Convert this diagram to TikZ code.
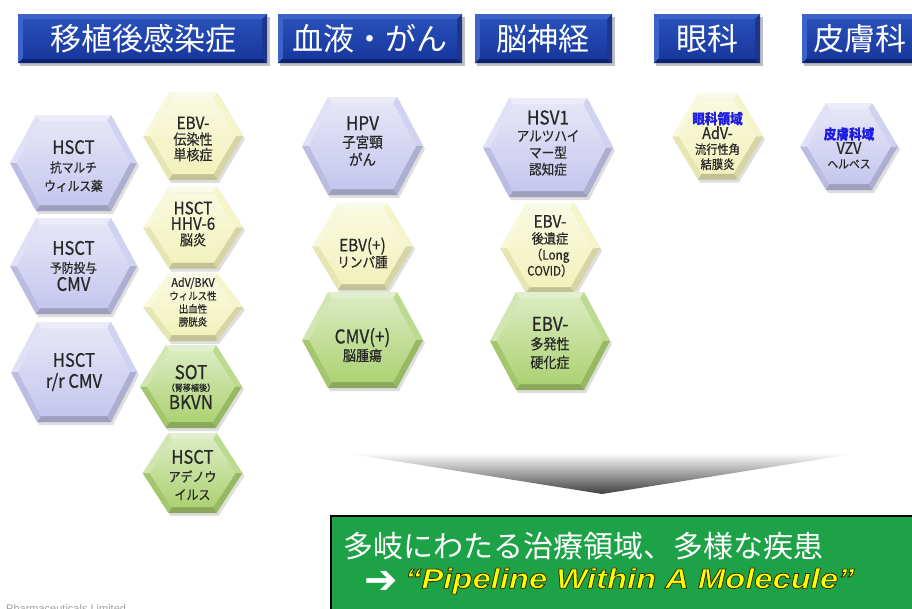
\documentclass[tikz,border=0pt]{standalone}
\usepackage{fontspec}
\setmainfont{Liberation Sans}
\newfontfamily\jpfont{Noto Sans CJK JP}
\newfontfamily\hexfont[FakeStretch=0.9, FakeBold=0.6]{Noto Sans CJK JP}
\newfontfamily\pipefont[FakeStretch=1.17, FakeBold=3]{Liberation Sans}
\newfontfamily\arrowfont{DejaVu Sans}
\usetikzlibrary{calc}

\definecolor{hexP}{RGB}{198,198,238}
\definecolor{hexY}{RGB}{242,242,188}
\definecolor{hexG}{RGB}{172,210,114}
\definecolor{hdrEdge}{RGB}{60,100,200}
\definecolor{hdrDark}{RGB}{14,34,115}
\definecolor{hdrTop}{RGB}{40,80,185}
\definecolor{hdrBot}{RGB}{24,56,158}
\definecolor{boxGreen}{RGB}{30,162,72}
\definecolor{pipeYellow}{RGB}{255,255,0}
\definecolor{lblBlue}{RGB}{30,30,225}
\definecolor{txtDark}{RGB}{40,40,40}

\newcommand\lat[2][18.5]{{\fontsize{#1}{#1}\selectfont #2}}
\newcommand\blu[1]{{\fontsize{14}{14}\selectfont\bfseries\color{lblBlue}#1}}
\newcommand\outl[1]{\special{pdf:literal direct 0.22 0.18 0 RG}#1}

\tikzset{
  hextext/.style={align=center, inner sep=0pt, text=txtDark},
  fs/.style 2 args={font={\hexfont\fontsize{#1}{#2}\selectfont\lineskiplimit=-30pt}},
  hdrtext/.style={text=white, inner sep=0pt, font={\jpfont\fontsize{31}{31}\selectfont}},
}

% name, cx, cy, W, H, colour, text cy, node options, text
\newcommand\hexa[9]{%
\begin{scope}[shift={(#2,#3)}]
  \pgfmathsetmacro\hw{#4/2}%
  \pgfmathsetmacro\hh{#5/2}%
  \pgfmathsetmacro\hs{\hw-26}%
  \pgfmathsetmacro\iw{\hw-7}%
  \pgfmathsetmacro\ih{\hh-6}%
  \pgfmathsetmacro\is{\iw-26*\ih/\hh}%
  \pgfmathsetmacro\ty{#7-#3}%
  \begin{scope}[shift={(2,3)}]
    \fill[black,opacity=.13] (-\hw,0)--(-\hs,-\hh)--(\hs,-\hh)--(\hw,0)--(\hs,\hh)--(-\hs,\hh)--cycle;
  \end{scope}
  \fill[#6!35!white] (-\hs,-\hh)--(\hs,-\hh)--(\is,-\ih)--(-\is,-\ih)--cycle;
  \fill[#6!55!white] (-\hw,0)--(-\hs,-\hh)--(-\is,-\ih)--(-\iw,0)--cycle;
  \fill[#6!80!white] (\hs,-\hh)--(\hw,0)--(\iw,0)--(\is,-\ih)--cycle;
  \fill[#6!88!black] (\hw,0)--(\hs,\hh)--(\is,\ih)--(\iw,0)--cycle;
  \fill[#6!80!black] (\hs,\hh)--(-\hs,\hh)--(-\is,\ih)--(\is,\ih)--cycle;
  \fill[#6!95!black] (-\hs,\hh)--(-\hw,0)--(-\iw,0)--(-\is,\ih)--cycle;
  \shade[top color=#6!45!white, bottom color=#6] (-\iw,0)--(-\is,-\ih)--(\is,-\ih)--(\iw,0)--(\is,\ih)--(-\is,\ih)--cycle;
  \node[hextext,#8] (#1) at (0,\ty) {#9};
\end{scope}}

% name, x1, x2, text centre x, text
\newcommand\hdr[5]{%
  \fill[black,opacity=.25] (#2+2,17) rectangle (#3+3,66);
  \fill[hdrEdge] (#2,14) rectangle (#3,63);
  \fill[hdrDark] (#2,63)--(#2+5,58)--(#3-5,58)--(#3,63)--cycle;
  \fill[hdrDark!70!hdrEdge] (#3,14)--(#3-5,19)--(#3-5,58)--(#3,63)--cycle;
  \shade[top color=hdrTop, bottom color=hdrBot] (#2+5,19) rectangle (#3-5,58);
  \node[hdrtext] (#1) at (#4,39) {#5};
}

\begin{document}
\begin{tikzpicture}[x=1pt,y=-1pt]
\useasboundingbox (0,0) rectangle (912,608);
\clip (0,0) rectangle (912,608);
\fill[white] (0,0) rectangle (912,608);

% headers
\hdr{hd1}{18}{267}{143}{移植後感染症}
\hdr{hd2}{278}{462}{370}{血液・がん}
\hdr{hd3}{475}{612}{543}{脳神経}
\hdr{hd4}{654}{760}{707}{眼科}
\hdr{hd5}{802}{918}{860}{皮膚科}

% column 1
\hexa{hA}{73.5}{163}{127}{96}{hexP}{166}{fs={13}{18.5}}{\lat{HSCT}\\抗マルチ\\ウィルス薬}
\hexa{hB}{73.5}{266}{127}{96}{hexP}{266}{fs={13}{18}}{\lat{HSCT}\\予防投与\\\lat{CMV}}
\hexa{hC}{74}{372}{126}{100}{hexP}{372}{fs={13}{21}}{\lat{HSCT}\\\lat{r/r CMV}}

% column 2
\hexa{hD}{193}{136}{100}{88}{hexY}{139}{fs={14.5}{15.5}}{\lat[17]{EBV-}\\伝染性\\単核症}
\hexa{hE}{193}{227.5}{100}{82}{hexY}{224}{fs={14.5}{15.5}}{\lat[17]{HSCT}\\\lat[17]{HHV-6}\\脳炎}
\hexa{hF}{193}{307}{100}{68}{hexY}{302}{fs={10.5}{13}}{\lat[12]{AdV/BKV}\\ウィルス性\\出血性\\膀胱炎}
\hexa{hG}{191}{386.5}{102}{83}{hexG}{387}{fs={9}{12}}{\lat[19]{SOT}\\（腎移植後）\\[6pt]\lat[19]{BKVN}}
\hexa{hH}{192.5}{473}{100}{80}{hexG}{475}{fs={13.3}{18}}{\lat{HSCT}\\アデノウ\\イルス}

% column 3
\hexa{hI}{362.5}{146}{121}{98}{hexP}{141}{fs={15}{17.5}}{\lat[19]{HPV}\\子宮頸\\がん}
\hexa{hJ}{362.5}{246.5}{101}{87}{hexY}{253}{fs={14}{16}}{\lat[17]{EBV(+)}\\リンパ腫}
\hexa{hK}{362.5}{340}{121}{96}{hexG}{345}{fs={14.5}{17.5}}{\lat[19]{CMV(+)}\\脳腫瘍}

% column 4
\hexa{hL}{548}{147.5}{130}{99}{hexP}{143}{fs={14}{16.7}}{\lat[19]{HSV1}\\アルツハイ\\マー型\\認知症}
\hexa{hM}{550}{248}{100}{90}{hexY}{246}{fs={13.5}{16}}{\lat[17]{EBV-}\\後遺症\\\lat[13]{（Long}\\\lat[13]{COVID）}}
\hexa{hN}{550}{341}{120}{98}{hexG}{343}{fs={14.5}{18.5}}{\lat[19]{EBV-}\\多発性\\硬化症}

% columns 5 and 6
\hexa{hO}{717.5}{136.5}{91}{86}{hexY}{141}{fs={12.5}{15}}{\blu{眼科領域}\\\lat[16]{AdV-}\\流行性角\\結膜炎}
\hexa{hP}{849}{146.5}{98}{87}{hexP}{148}{fs={12}{14.5}}{\blu{皮膚科域}\\\lat[16]{VZV}\\ヘルペス}

% big grey chevron
\shade[top color=white, bottom color=black!75] (345,453) -- (859,453) -- (602,494) -- cycle;

% green conclusion box
\draw[line width=2.5pt, fill=boxGreen] (331,516) rectangle (930,625);
\node[anchor=west, text=white, inner sep=0pt, font={\jpfont\fontsize{30}{30}\selectfont}] (tagline) at (343,546) {多岐にわたる治療領域、多様な疾患};
\node[anchor=west, text=white, inner sep=0pt, font={\arrowfont\bfseries\fontsize{40}{40}\selectfont}] (arrowsym) at (364,582) {➔};
\node[anchor=west, text=pipeYellow, inner sep=0pt, font={\pipefont\bfseries\itshape\fontsize{28}{28}\selectfont}] (pipe) at (405,581) {\outl{“Pipeline Within A Molecule”}};

% footer fragment
\node[anchor=base west, text=black!38, inner sep=0pt, font={\fontsize{11}{11}\selectfont}] (footer) at (6,612) {Pharmaceuticals Limited};
\end{tikzpicture}
\end{document}
